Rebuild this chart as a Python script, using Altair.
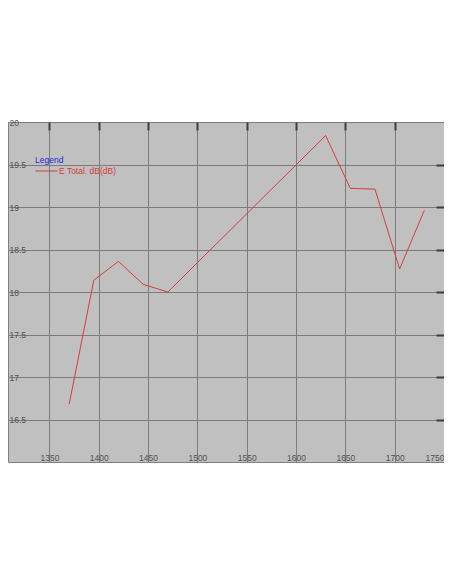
import pandas as pd
import altair as alt

# frequency vs E total
freq = [1370, 1395, 1420, 1445, 1470, 1630, 1655, 1680, 1705, 1730]
e_total = [16.68, 18.14, 18.36, 18.09, 18.0, 19.84, 19.22, 19.21, 18.27, 18.96]
series_name = 'E Total. dB(dB)'

x_ticks = [1350, 1400, 1450, 1500, 1550, 1600, 1650, 1700, 1750]
y_ticks = [16.5, 17, 17.5, 18, 18.5, 19, 19.5, 20]

df = pd.DataFrame({'freq': freq, 'value': e_total, 'series': series_name})

LABEL_COLOR = '#505050'
GRID_COLOR = '#7c7c7c'
TICK_COLOR = '#3c3c3c'

x_scale = alt.Scale(domain=[1308, 1750], nice=False, zero=False)
y_scale = alt.Scale(domain=[16, 20], nice=False, zero=False)

base = alt.Chart(df)

line = base.mark_line(strokeWidth=1).encode(
    x=alt.X('freq:Q', scale=x_scale,
            axis=alt.Axis(orient='bottom', values=x_ticks, title=None, domain=False,
                          format='d', ticks=False, tickSize=0, labelPadding=-1.5,
                          labelBaseline='alphabetic', labelFont='Liberation Sans',
                          labelFontSize=8.5, labelColor=LABEL_COLOR, grid=True,
                          gridColor=GRID_COLOR, gridOpacity=1, labelFlush=True)),
    y=alt.Y('value:Q', scale=y_scale,
            axis=alt.Axis(orient='left', values=y_ticks, title=None, domain=False,
                          format='.1~f', ticks=False, tickSize=0, labelPadding=-1,
                          labelAlign='left', labelBaseline='middle',
                          labelFont='Liberation Sans', labelFontSize=8.5,
                          labelColor=LABEL_COLOR, grid=True, gridColor=GRID_COLOR,
                          gridOpacity=1, labelFlush=True)),
    color=alt.Color('series:N',
                    scale=alt.Scale(domain=[series_name], range=['#d83c3c']),
                    legend=alt.Legend(orient='none', legendX=27, legendY=34,
                                      title='Legend', titleColor='#2a2ad8',
                                      titleFont='Liberation Sans', titleFontSize=8.5,
                                      titleFontWeight='normal', titlePadding=-5,
                                      symbolType='stroke', symbolSize=484,
                                      symbolStrokeWidth=1, labelOffset=1,
                                      labelFont='Liberation Sans', labelFontSize=8.5,
                                      labelColor='#d83c3c', padding=0)),
)

# inward tick marks on the top and right edges
ticks_layer = base.mark_line(opacity=0).encode(
    x=alt.X('freq:Q', scale=x_scale,
            axis=alt.Axis(orient='top', values=x_ticks[:-1], title=None, domain=False,
                          labels=False, grid=False, offset=-8, tickSize=8,
                          tickWidth=2, tickColor=TICK_COLOR)),
    y=alt.Y('value:Q', scale=y_scale,
            axis=alt.Axis(orient='right', values=y_ticks[:-1], title=None, domain=False,
                          labels=False, grid=False, offset=-8, tickSize=8,
                          tickWidth=2, tickColor=TICK_COLOR)),
)

chart = alt.layer(line, ticks_layer).resolve_axis(
    x='independent', y='independent'
).properties(
    width=436,
    height=340,
    padding={'left': 0, 'top': 114, 'right': 0, 'bottom': 10},
    autosize=alt.AutoSizeParams(type='none'),
    background='white',
).configure_view(
    fill='#c0c0c0',
    stroke='#808080',
    strokeWidth=1,
)

chart.save("out.html", embed_options={"renderer": "svg", "actions": False})
